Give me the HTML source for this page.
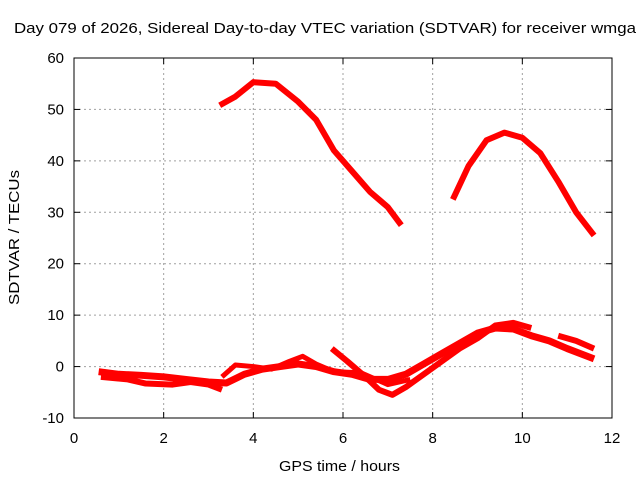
<!DOCTYPE html>
<html><head><meta charset="utf-8"><style>
body{margin:0;background:#fff;}
svg{display:block;font-family:"Liberation Sans",sans-serif;font-size:15px;}
</style></head><body>
<svg id="chart" width="640" height="480">
<rect width="640" height="480" fill="#fff"/>
<text x="14" y="33" textLength="622" lengthAdjust="spacingAndGlyphs">Day 079 of 2026, Sidereal Day-to-day VTEC variation (SDTVAR) for receiver wmga</text>
<g id="grid"></g>
<g id="series"></g>
<rect x="74" y="58" width="538" height="360" fill="none" stroke="#000"/>
<g id="axes"></g>
<text x="279" y="471" textLength="121" lengthAdjust="spacingAndGlyphs">GPS time / hours</text>
<text transform="translate(19,305) rotate(-90)" textLength="135" lengthAdjust="spacingAndGlyphs">SDTVAR / TECUs</text>
</svg>
<script>
const xTicks=[0,2,4,6,8,10,12];
const yTicks=[-10,0,10,20,30,40,50,60];
const seriesUpper1=[[3.25,50.8],[3.6,52.5],[4.0,55.3],[4.5,55],[5.0,51.5],[5.4,48],[5.8,42],[6.2,38],[6.6,34],[7.0,31],[7.3,27.5]];
const seriesUpper2=[[8.45,32.5],[8.8,39],[9.2,44],[9.6,45.5],[10.0,44.5],[10.4,41.5],[10.8,36],[11.2,30],[11.6,25.5]];
const seriesLow1=[[0.55,-1],[1,-1.5],[1.5,-1.7],[2,-2],[2.5,-2.5],[3,-3],[3.4,-3.2],[3.8,-1.5],[4.2,-0.5],[4.6,0],[5,0.5],[5.4,0],[5.8,-1],[6.2,-1.5],[6.6,-2.5],[7,-2.5],[7.4,-1.5],[7.8,0.5],[8.2,2.5],[8.6,4.5],[9,6.5],[9.4,7.5],[9.8,7.3],[10.2,6],[10.6,5],[11,3.5],[11.6,1.5]];
const seriesLow2=[[0.6,-2],[1.2,-2.5],[1.6,-3.3],[2.2,-3.5],[2.6,-3],[3,-3.5],[3.3,-4.5]];
const seriesLow3=[[3.3,-2],[3.6,0.3],[4,0],[4.4,-0.5],[4.8,1],[5.1,2],[5.4,0.5],[5.8,-1],[6.4,-1.2],[7,-3.5],[7.5,-2.5]];
const seriesLow4=[[5.75,3.5],[6.1,1],[6.5,-2],[6.8,-4.5],[7.1,-5.5],[7.4,-4],[7.8,-1.5],[8.2,1],[8.6,3.5],[9,5.5],[9.4,8],[9.8,8.5],[10.2,7.5]];
const seriesLow5=[[10.8,6],[11.2,5],[11.6,3.5]];
const allSeries=[[seriesUpper1,'series-upper-1',6],[seriesUpper2,'series-upper-2',6],[seriesLow1,'series-low-1',7],[seriesLow2,'series-low-2',6],[seriesLow3,'series-low-3',5],[seriesLow4,'series-low-4',6],[seriesLow5,'series-low-5',6]];
const NS='http://www.w3.org/2000/svg';
const X=h=>74+h*(538/12);
const Y=v=>418-(v+10)*(360/70);
const grid=document.getElementById('grid'),axes=document.getElementById('axes'),ser=document.getElementById('series');
function mk(tag,at,parent){const e=document.createElementNS(NS,tag);for(const k in at)e.setAttribute(k,at[k]);parent.appendChild(e);return e;}
xTicks.forEach(t=>{
  if(t>0&&t<12){const g=mk('line',{x1:X(t),x2:X(t),y1:58,y2:418,stroke:'#a0a0a0','stroke-dasharray':'2,3'},grid);
  
  }
  const a=mk('line',{x1:X(t),x2:X(t),y1:418,y2:412,stroke:'#000'},axes);
  
  
  const b=mk('line',{x1:X(t),x2:X(t),y1:58,y2:64,stroke:'#000'},axes);
  
  
  const l=mk('text',{x:X(t),y:443,'text-anchor':'middle'},axes);l.textContent=t;
  
  
});
yTicks.forEach(t=>{
  if(t>-10&&t<60){const g=mk('line',{x1:74,x2:612,y1:Y(t),y2:Y(t),stroke:'#a0a0a0','stroke-dasharray':'2,3'},grid);
  
  }
  const a=mk('line',{x1:74,x2:80,y1:Y(t),y2:Y(t),stroke:'#000'},axes);
  
  
  const b=mk('line',{x1:606,x2:612,y1:Y(t),y2:Y(t),stroke:'#000'},axes);
  
  
  const l=mk('text',{x:64,y:Y(t)+5,'text-anchor':'end'},axes);l.textContent=t;
  
  
});
allSeries.forEach(([d,name,w])=>{
  const p=mk('polyline',{points:d.map(q=>X(q[0])+','+Y(q[1])).join(' '),fill:'none',stroke:'#ff0000','stroke-width':w,'stroke-linejoin':'round'},ser);
  
  
});
</script>
</body></html>
